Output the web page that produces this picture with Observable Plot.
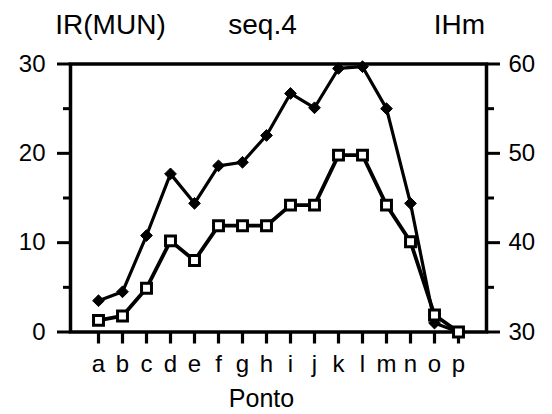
<!DOCTYPE html>
<html>
<head>
<meta charset="utf-8">
<script src="https://cdn.jsdelivr.net/npm/d3@7"></script>
<script src="https://cdn.jsdelivr.net/npm/@observablehq/plot@0.6"></script>
<style>
  html, body { margin: 0; padding: 0; background: #fff; }
  #chart svg { display: block; }
</style>
</head>
<body>
<div id="chart"></div>
<script>
// Categories (Ponto)
const categories = ["a","b","c","d","e","f","g","h","i","j","k","l","m","n","o","p"];
// IR(MUN) series (left axis, squares)
const irMun = [1.3, 1.8, 4.9, 10.2, 8.0, 11.9, 11.9, 11.9, 14.2, 14.2, 19.8, 19.8, 14.2, 10.1, 1.9, 0.0];
// IHm series (right axis, diamonds)
const iHm = [33.5, 34.5, 40.8, 47.7, 44.4, 48.6, 49.0, 52.0, 56.7, 55.1, 59.5, 59.7, 55.0, 44.4, 31.0, 30.0];
// Axis ticks
const leftMajor = [0, 10, 20, 30];
const leftMinor = [5, 15, 25];
const rightMajor = [30, 40, 50, 60];
const rightMinor = [35, 45, 55];
const rightBase = 30; // IHm axis starts at 30 where IR(MUN) starts at 0
// Texts
const titleLeft = "IR(MUN)";
const titleMid = "seq.4";
const titleRight = "IHm";
const xLabel = "Ponto";

const rows = categories.map((c, i) => ({ponto: c, ir: irMun[i], ihm: iHm[i]}));

const chart = Plot.plot({
  width: 552,
  height: 414,
  marginTop: 63.5,
  marginBottom: 82.5,
  marginLeft: 70,
  marginRight: 66,
  style: {fontFamily: "'Liberation Sans', Arial, sans-serif", fontSize: "24px", color: "black", background: "white"},
  x: {type: "point", domain: categories, insetLeft: 11.7, insetRight: 12.7},
  y: {domain: [0, 30]},
  marks: [
    Plot.frame({strokeWidth: 3.5}),
    Plot.axisY({ticks: leftMajor, tickSize: 13, tickPadding: 12, strokeWidth: 3, label: null, fontSize: 24}),
    Plot.axisY({ticks: leftMinor, tickSize: 7, strokeWidth: 3, fill: "none", label: null}),
    Plot.axisY({anchor: "right", ticks: rightMajor.map(v => v - rightBase), tickFormat: d => String(d + rightBase),
                tickSize: 13, tickPadding: 9, strokeWidth: 3, label: null, fontSize: 24}),
    Plot.axisY({anchor: "right", ticks: rightMinor.map(v => v - rightBase), tickSize: 7, strokeWidth: 3, fill: "none", label: null}),
    Plot.axisX({ticks: categories, tickSize: 12, tickPadding: 11, strokeWidth: 3.2, label: null, fontSize: 24}),
    Plot.line(rows, {x: "ponto", y: d => d.ihm - rightBase, stroke: "black", strokeWidth: 3.2}),
    Plot.dot(rows, {x: "ponto", y: d => d.ihm - rightBase, symbol: "diamond2", r: 5.3, fill: "black", stroke: "black", strokeWidth: 1}),
    Plot.line(rows, {x: "ponto", y: "ir", stroke: "black", strokeWidth: 3.8}),
    Plot.dot(rows, {x: "ponto", y: "ir", symbol: "square", r: 5.6, fill: "white", stroke: "black", strokeWidth: 3}),
    Plot.text([titleLeft], {frameAnchor: "top-left", dx: 40, dy: -30.5, textAnchor: "middle", lineAnchor: "bottom", fontSize: 28}),
    Plot.text([titleMid], {frameAnchor: "top-left", dx: 192, dy: -30.5, textAnchor: "middle", lineAnchor: "bottom", fontSize: 28}),
    Plot.text([titleRight], {frameAnchor: "top-left", dx: 389, dy: -30.5, textAnchor: "middle", lineAnchor: "bottom", fontSize: 28}),
    Plot.text([xLabel], {frameAnchor: "bottom-left", dx: 191, dy: 75, textAnchor: "middle", lineAnchor: "bottom", fontSize: 25})
  ]
});
document.getElementById("chart").appendChild(chart);
</script>
</body>
</html>
